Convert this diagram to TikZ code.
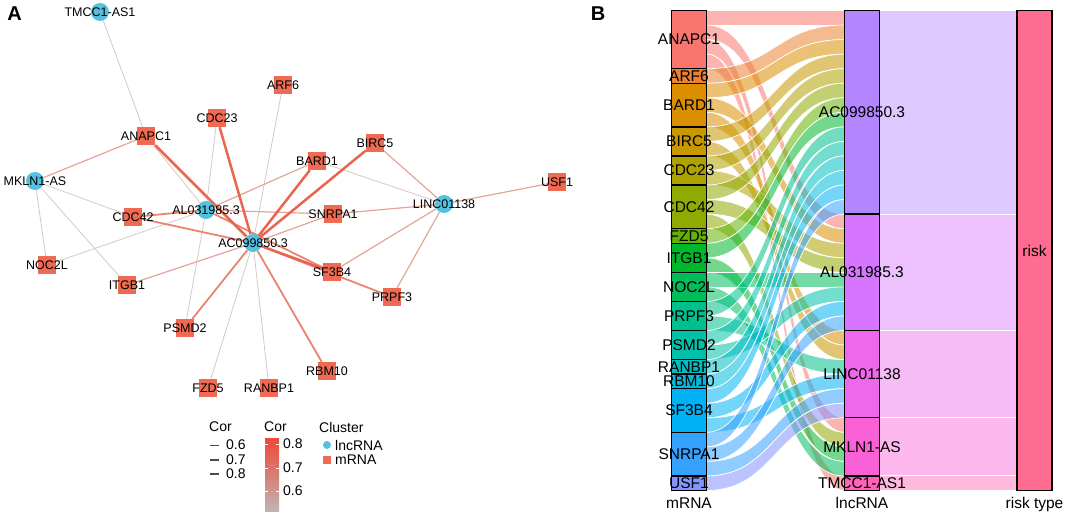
\documentclass[tikz,border=0pt]{standalone}
\usepackage{fontspec}
\setmainfont{Liberation Sans}
\usetikzlibrary{backgrounds}

\definecolor{lncblue}{HTML}{55C1DE}
\definecolor{mrnared}{HTML}{EF6A52}
\definecolor{corlo}{HTML}{D5C8C7}
\definecolor{corlm}{HTML}{E4A597}
\definecolor{corhm}{HTML}{E9846F}
\definecolor{corhi}{HTML}{EA6550}

\definecolor{colanapc}{HTML}{F8766D}
\definecolor{colarf}{HTML}{EA8331}
\definecolor{colbard}{HTML}{DB8E00}
\definecolor{colbirc}{HTML}{C79800}
\definecolor{colcdcc}{HTML}{AEA200}
\definecolor{colcdcd}{HTML}{8FAA00}
\definecolor{colfzd}{HTML}{64B200}
\definecolor{colitgb}{HTML}{00B82B}
\definecolor{colnoc}{HTML}{00BD5C}
\definecolor{colprpf}{HTML}{00C08B}
\definecolor{colpsmd}{HTML}{00C1A7}
\definecolor{colranbp}{HTML}{00BFC4}
\definecolor{colrbm}{HTML}{00BADE}
\definecolor{colsfb}{HTML}{00B2F3}
\definecolor{colsnrpa}{HTML}{35A2FF}
\definecolor{colusf}{HTML}{8494FF}
\definecolor{colac}{HTML}{B385FF}
\definecolor{colal}{HTML}{D675FD}
\definecolor{collinc}{HTML}{EE67EC}
\definecolor{colmkln}{HTML}{FB61D7}
\definecolor{coltmcc}{HTML}{FF63B8}
\definecolor{colrisk}{HTML}{FF6C91}

\begin{document}
\begin{tikzpicture}[x=1pt, y=-1pt,
  lncnode/.style={circle, fill=lncblue, minimum size=18pt, inner sep=0pt},
  mrnode/.style={rectangle, fill=mrnared, minimum size=18pt, inner sep=0pt},
  every label/.style={font=\fontsize{12.5}{14}\selectfont, inner sep=0pt},
  cora/.style={corlo, line width=0.8pt},
  corb/.style={corlm, line width=1.2pt},
  corc/.style={corhm, line width=1.8pt},
  cord/.style={corhi, line width=2.5pt},
  stratum/.style={draw=black, line width=1.3pt},
  flowband/.style={draw=white, line width=0.7pt, fill opacity=0.55},
  blabel/.style={font=\fontsize{15.5}{18}\selectfont, inner sep=0pt},
  legtext/.style={font=\fontsize{14}{16}\selectfont, inner sep=0pt, anchor=west},
  panel/.style={font=\fontsize{20}{24}\selectfont\bfseries, inner sep=0pt}]
\useasboundingbox (0,0) rectangle (1065,514);

% A: network
\node[panel] (pa) at (14.5,14) {A};

\node[lncnode, label=center:TMCC1-AS1] (tmcc) at (100,12) {};
\node[lncnode, label=center:MKLN1-AS] (mkln) at (35,181) {};
\node[lncnode, label=center:LINC01138] (linc) at (444,204) {};
\node[lncnode, label=center:AL031985.3] (al) at (206,210) {};
\node[lncnode, label=center:AC099850.3] (ac) at (253,243) {};

\node[mrnode, label=center:ARF6] (arf) at (283,85) {};
\node[mrnode, label=center:CDC23] (cdcc) at (217,118) {};
\node[mrnode, label=center:ANAPC1] (anapc) at (146,136) {};
\node[mrnode, label=center:BIRC5] (birc) at (375,143) {};
\node[mrnode, label=center:BARD1] (bard) at (317,161) {};
\node[mrnode, label=center:USF1] (usf) at (557,182) {};
\node[mrnode, label=center:CDC42] (cdcd) at (133,217) {};
\node[mrnode, label=center:SNRPA1] (snrpa) at (333,214) {};
\node[mrnode, label=center:NOC2L] (noc) at (47,265) {};
\node[mrnode, label=center:SF3B4] (sfb) at (332,272) {};
\node[mrnode, label=center:ITGB1] (itgb) at (127,285) {};
\node[mrnode, label=center:PRPF3] (prpf) at (392,297) {};
\node[mrnode, label=center:PSMD2] (psmd) at (185,328) {};
\node[mrnode, label=center:RBM10] (rbm) at (327,371) {};
\node[mrnode, label=center:FZD5] (fzd) at (208,388) {};
\node[mrnode, label=center:RANBP1] (ranbp) at (269,388) {};

\begin{scope}[on background layer]
\draw[cora] (tmcc) -- (anapc);
\draw[cora] (anapc) -- (al);
\draw[cora] (cdcc) -- (al);
\draw[cora] (arf) -- (ac);
\draw[cora] (bard) -- (linc);
\draw[cora] (fzd) -- (ac);
\draw[cora] (ranbp) -- (ac);
\draw[cora] (psmd) -- (al);
\draw[cora] (mkln) -- (cdcd);
\draw[cora] (mkln) -- (noc);
\draw[cora] (mkln) -- (itgb);
\draw[cora] (noc) -- (al);
\draw[corb] (itgb) -- (ac);
\draw[corb] (anapc) -- (mkln);
\draw[corb] (bard) -- (al);
\draw[corb] (snrpa) -- (ac);
\draw[corb] (snrpa) -- (al);
\draw[corb] (usf) -- (linc);
\draw[corb] (birc) -- (linc);
\draw[corb] (sfb) -- (linc);
\draw[corb] (prpf) -- (linc);
\draw[corb] (snrpa) -- (linc);
\draw[corc] (cdcd) -- (ac);
\draw[corc] (cdcd) -- (al);
\draw[corc] (rbm) -- (ac);
\draw[corc] (psmd) -- (ac);
\draw[corc] (prpf) -- (ac);
\draw[corc] (sfb) -- (al);
\draw[cord] (anapc) -- (ac);
\draw[cord] (cdcc) -- (ac);
\draw[cord] (bard) -- (ac);
\draw[cord] (birc) -- (ac);
\draw[cord] (sfb) -- (ac);
\end{scope}

% legend
\node[legtext] (lgw) at (209,427) {Cor};
\draw[black!70, line width=0.9pt] (210,445) -- (219,445);
\draw[black!70, line width=1.6pt] (210,460) -- (219,460);
\draw[black!70, line width=2.4pt] (210,474) -- (219,474);
\node[legtext] (lwa) at (226,445) {0.6};
\node[legtext] (lwb) at (226,460) {0.7};
\node[legtext] (lwc) at (226,474) {0.8};

\node[legtext] (lgc) at (264,427) {Cor};
\shade[top color=corhi!70!red, middle color=corlm, bottom color=corlo!90!black] (265,438) rectangle (279,511);
\draw[white, line width=0.8pt] (265,444) -- (268,444) (276,444) -- (279,444)
  (265,468) -- (268,468) (276,468) -- (279,468)
  (265,491) -- (268,491) (276,491) -- (279,491);
\node[legtext] (lca) at (283,444) {0.8};
\node[legtext] (lcb) at (283,468) {0.7};
\node[legtext] (lcc) at (283,491) {0.6};

\node[legtext] (lgk) at (319,427) {Cluster};
\node[lncnode, minimum size=8pt] (klnc) at (327,445) {};
\node[legtext] (tlnc) at (335,445) {lncRNA};
\node[mrnode, minimum size=8pt] (kmrn) at (327,460) {};
\node[legtext] (tmrn) at (335,460) {mRNA};

% B: alluvial
\node[panel] (pb) at (598,14) {B};

\def\yt{10.5}
\def\un{14.5455}

\def\flow#1#2#3{%
  \pgfmathsetmacro\ya{\yt+#1*\un}
  \pgfmathsetmacro\yb{\yt+#2*\un}
  \filldraw[flowband, fill=#3] (706.5,\ya) .. controls (775.5,\ya) and (775.5,\yb) .. (844.5,\yb)
    -- (844.5,\yb+\un) .. controls (775.5,\yb+\un) and (775.5,\ya+\un) .. (706.5,\ya+\un) -- cycle;
}
\def\band#1#2#3{%
  \pgfmathsetmacro\ya{\yt+#1*\un}
  \pgfmathsetmacro\yb{\yt+(#1+#2)*\un}
  \filldraw[draw=white, line width=1pt, fill=#3!45!white] (879.5,\ya) rectangle (1017,\yb);
}
\def\strat#1#2#3#4#5#6{%
  \pgfmathsetmacro\ya{\yt+#3*\un}
  \pgfmathsetmacro\yb{\yt+(#3+#4)*\un}
  \pgfmathsetmacro\ym{(\ya+\yb)/2}
  \filldraw[stratum, fill=#5] (#2,\ya) rectangle (#2+35,\yb);
  \node[blabel] (#1) at (#2+17.5,\ym) {#6};
}

\flow{0}{0}{colanapc}
\flow{1}{14}{colanapc}
\flow{2}{28}{colanapc}
\flow{3}{32}{colanapc}
\flow{4}{1}{colarf}
\flow{5}{2}{colbard}
\flow{6}{15}{colbard}
\flow{7}{22}{colbard}
\flow{8}{3}{colbirc}
\flow{9}{23}{colbirc}
\flow{10}{4}{colcdcc}
\flow{11}{16}{colcdcc}
\flow{12}{5}{colcdcd}
\flow{13}{17}{colcdcd}
\flow{14}{29}{colcdcd}
\flow{15}{6}{colfzd}
\flow{16}{7}{colitgb}
\flow{17}{30}{colitgb}
\flow{18}{18}{colnoc}
\flow{19}{31}{colnoc}
\flow{20}{8}{colprpf}
\flow{21}{24}{colprpf}
\flow{22}{9}{colpsmd}
\flow{23}{19}{colpsmd}
\flow{24}{10}{colranbp}
\flow{25}{11}{colrbm}
\flow{26}{12}{colsfb}
\flow{27}{20}{colsfb}
\flow{28}{25}{colsfb}
\flow{29}{13}{colsnrpa}
\flow{30}{21}{colsnrpa}
\flow{31}{26}{colsnrpa}
\flow{32}{27}{colusf}

\band{0}{14}{colac}
\band{14}{8}{colal}
\band{22}{6}{collinc}
\band{28}{4}{colmkln}
\band{32}{1}{coltmcc}

\strat{sanapc}{671.5}{0}{4}{colanapc}{ANAPC1}
\strat{sarf}{671.5}{4}{1}{colarf}{ARF6}
\strat{sbard}{671.5}{5}{3}{colbard}{BARD1}
\strat{sbirc}{671.5}{8}{2}{colbirc}{BIRC5}
\strat{scdcc}{671.5}{10}{2}{colcdcc}{CDC23}
\strat{scdcd}{671.5}{12}{3}{colcdcd}{CDC42}
\strat{sfzd}{671.5}{15}{1}{colfzd}{FZD5}
\strat{sitgb}{671.5}{16}{2}{colitgb}{ITGB1}
\strat{snoc}{671.5}{18}{2}{colnoc}{NOC2L}
\strat{sprpf}{671.5}{20}{2}{colprpf}{PRPF3}
\strat{spsmd}{671.5}{22}{2}{colpsmd}{PSMD2}
\strat{sranbp}{671.5}{24}{1}{colranbp}{RANBP1}
\strat{srbm}{671.5}{25}{1}{colrbm}{RBM10}
\strat{ssfb}{671.5}{26}{3}{colsfb}{SF3B4}
\strat{ssnrpa}{671.5}{29}{3}{colsnrpa}{SNRPA1}
\strat{susf}{671.5}{32}{1}{colusf}{USF1}

\strat{sac}{844.5}{0}{14}{colac}{AC099850.3}
\strat{sal}{844.5}{14}{8}{colal}{AL031985.3}
\strat{slinc}{844.5}{22}{6}{collinc}{LINC01138}
\strat{smkln}{844.5}{28}{4}{colmkln}{MKLN1-AS}
\strat{stmcc}{844.5}{32}{1}{coltmcc}{TMCC1-AS1}

\strat{srisk}{1017}{0}{33}{colrisk}{risk}

\node[blabel, anchor=base] (axm) at (689,508) {mRNA};
\node[blabel, anchor=base] (axl) at (862,508) {lncRNA};
\node[blabel, anchor=base] (axr) at (1034.5,508) {risk type};
\end{tikzpicture}
\end{document}
